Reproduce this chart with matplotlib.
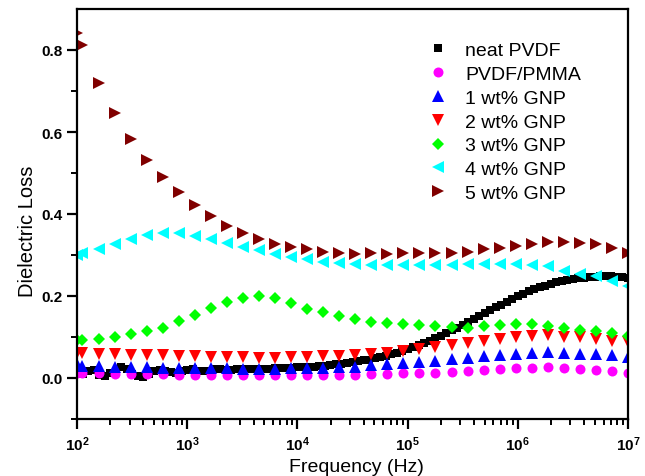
import numpy as np
import matplotlib
matplotlib.use("Agg")
import matplotlib.pyplot as plt
from matplotlib.ticker import FixedLocator, FuncFormatter, NullFormatter

plt.rcParams['font.family'] = ['Liberation Sans', 'DejaVu Sans']
plt.rcParams['mathtext.fontset'] = 'custom'
plt.rcParams['mathtext.rm'] = 'Liberation Sans'
plt.rcParams['mathtext.bf'] = 'Liberation Sans:bold'

# ---------------- data ----------------
freq = [100, 112, 157, 219, 307, 429, 600, 839, 1172, 1641, 2291, 3206, 4487,
        6266, 8770, 12240, 17140, 23990, 33500, 46880, 65460, 91620, 128200,
        179100, 250600, 349900, 489800, 685500, 957200, 1340000, 1871000,
        2618000, 3664000, 5117000, 7161000, 10000000]

freq_neat = np.logspace(2, 7, 101)
neat_pvdf = [0.014, 0.010, 0.016, 0.020, 0.008, 0.006, 0.012, 0.018, 0.026, 0.022,
             0.010, 0.004, 0.002, 0.010, 0.016, 0.020, 0.018, 0.014, 0.012, 0.016,
             0.020, 0.022, 0.018, 0.016, 0.018, 0.021, 0.022, 0.020, 0.019, 0.021,
             0.022, 0.023, 0.022, 0.021, 0.022, 0.023, 0.024, 0.024, 0.025, 0.025,
             0.026, 0.027, 0.027, 0.028, 0.029, 0.030, 0.031, 0.033, 0.035, 0.037,
             0.039, 0.041, 0.043, 0.045, 0.048, 0.051, 0.054, 0.058, 0.062, 0.066,
             0.070, 0.075, 0.080, 0.085, 0.091, 0.097, 0.103, 0.109, 0.116, 0.123,
             0.130, 0.137, 0.144, 0.151, 0.158, 0.165, 0.172, 0.179, 0.186, 0.193,
             0.199, 0.205, 0.211, 0.216, 0.221, 0.225, 0.229, 0.233, 0.236, 0.239,
             0.241, 0.243, 0.245, 0.246, 0.247, 0.248, 0.248, 0.248, 0.247, 0.246,
             0.245]

pvdf_pmma = [0.012, 0.011, 0.011, 0.010, 0.010, 0.009, 0.009, 0.008, 0.008, 0.008,
             0.008, 0.007, 0.007, 0.007, 0.007, 0.007, 0.007, 0.008, 0.008, 0.009,
             0.010, 0.011, 0.012, 0.013, 0.015, 0.017, 0.019, 0.022, 0.024, 0.025,
             0.026, 0.025, 0.022, 0.019, 0.016, 0.013]

gnp1 = [0.033, 0.030, 0.029, 0.028, 0.027, 0.026, 0.025, 0.025, 0.024, 0.024,
        0.024, 0.023, 0.023, 0.023, 0.024, 0.024, 0.025, 0.026, 0.028, 0.031,
        0.034, 0.036, 0.039, 0.042, 0.046, 0.050, 0.054, 0.056, 0.059, 0.062,
        0.064, 0.061, 0.059, 0.058, 0.055, 0.051]

gnp2 = [0.061, 0.060, 0.059, 0.058, 0.057, 0.056, 0.055, 0.054, 0.053, 0.052,
        0.051, 0.051, 0.050, 0.050, 0.051, 0.052, 0.053, 0.054, 0.056, 0.058,
        0.062, 0.066, 0.071, 0.075, 0.080, 0.085, 0.091, 0.096, 0.100, 0.103,
        0.105, 0.101, 0.099, 0.096, 0.091, 0.087]

gnp3 = [0.093, 0.093, 0.095, 0.101, 0.107, 0.115, 0.123, 0.139, 0.154, 0.171,
        0.186, 0.196, 0.200, 0.194, 0.182, 0.169, 0.161, 0.152, 0.143, 0.137,
        0.133, 0.131, 0.129, 0.126, 0.124, 0.123, 0.126, 0.129, 0.131, 0.131,
        0.127, 0.121, 0.118, 0.115, 0.109, 0.103]

gnp4 = [0.300, 0.306, 0.314, 0.326, 0.338, 0.348, 0.354, 0.353, 0.346, 0.340,
        0.330, 0.320, 0.311, 0.302, 0.296, 0.290, 0.284, 0.280, 0.277, 0.276,
        0.275, 0.275, 0.275, 0.275, 0.276, 0.277, 0.277, 0.277, 0.277, 0.275,
        0.273, 0.261, 0.253, 0.249, 0.237, 0.225]

gnp5 = [0.841, 0.813, 0.719, 0.646, 0.584, 0.531, 0.491, 0.454, 0.421, 0.395,
        0.371, 0.353, 0.338, 0.328, 0.320, 0.314, 0.308, 0.304, 0.303, 0.304,
        0.303, 0.304, 0.306, 0.306, 0.305, 0.308, 0.314, 0.318, 0.322, 0.328,
        0.332, 0.332, 0.330, 0.326, 0.318, 0.304]

labels = ['neat PVDF', 'PVDF/PMMA', '1 wt% GNP', '2 wt% GNP', '3 wt% GNP',
          '4 wt% GNP', '5 wt% GNP']
x_tick_exps = [2, 3, 4, 5, 6, 7]
y_ticks = [0.0, 0.2, 0.4, 0.6, 0.8]

# ---------------- plot ----------------
fig = plt.figure(figsize=(6.45, 4.77), dpi=100)
ax = fig.add_axes([77/645, 1-420/477, 551/645, 410/477])

series = [
    (freq_neat, neat_pvdf, 's', '#000000', 5.8),
    (freq, pvdf_pmma, 'o', '#FF00FF', 7.2),
    (freq, gnp1, '^', '#0000FF', 8.0),
    (freq, gnp2, 'v', '#FF0000', 8.0),
    (freq, gnp3, 'D', '#00FF00', 6.6),
    (freq, gnp4, '<', '#00FFFF', 8.0),
    (freq, gnp5, '>', '#800000', 8.0),
]
for (fx, fy, m, c, ms), lab in zip(series, labels):
    ax.plot(fx, fy, linestyle='none', marker=m, color=c, markersize=ms,
            markeredgewidth=0, label=lab)

ax.set_xscale('log')
ax.set_xlim(1e2, 1e7)
ax.set_ylim(-0.1, 0.9)

ax.xaxis.set_major_locator(FixedLocator([10.0**e for e in x_tick_exps]))
ax.xaxis.set_major_formatter(FuncFormatter(
    lambda v, p: r'$\mathbf{10^{%d}}$' % int(round(np.log10(v)))))
minors = [k * 10.0**e for e in x_tick_exps[:-1] for k in range(2, 10)]
ax.xaxis.set_minor_locator(FixedLocator(minors))
ax.xaxis.set_minor_formatter(NullFormatter())

ax.yaxis.set_major_locator(FixedLocator(y_ticks))
ax.yaxis.set_minor_locator(FixedLocator([-0.1, 0.1, 0.3, 0.5, 0.7]))
ax.yaxis.set_major_formatter(FuncFormatter(lambda v, p: '%.1f' % v))

for s in ax.spines.values():
    s.set_linewidth(1.6)
ax.tick_params(which='major', direction='out', length=7, width=1.6,
               labelsize=11, top=False, right=False)
ax.tick_params(which='minor', direction='out', length=4, width=1.4,
               top=False, right=False)
for t in ax.get_yticklabels():
    t.set_fontweight('bold')
ax.tick_params(axis='x', which='major', pad=4)

ax.set_xlabel('Frequency (Hz)', fontsize=14)
ax.set_ylabel('Dielectric Loss', fontsize=14.5)
ax.xaxis.set_label_coords(0.508, -0.094)
ax.yaxis.set_label_coords(-0.073, 0.46)

leg = ax.legend(loc='upper left', bbox_to_anchor=(0.638, 0.921), frameon=False,
                fontsize=14, handlelength=1.0, handletextpad=0.9,
                labelspacing=0.32, borderpad=0, borderaxespad=0)

fig.savefig('out.png', dpi=100)
